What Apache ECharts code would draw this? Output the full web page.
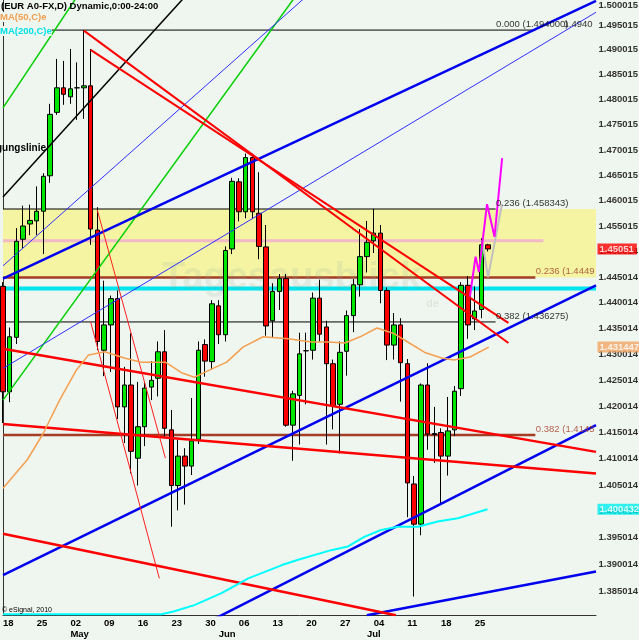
<!DOCTYPE html>
<html><head><meta charset="utf-8">
<script src="https://cdn.jsdelivr.net/npm/echarts@6/dist/echarts.min.js"></script>
<style>html,body{margin:0;padding:0;background:#eff5ef;}#c{width:639px;height:640px;}</style>
</head><body><div id="c"></div>
<script>
// ---- data ----
const dayCount = 89; // trading-day slots on the axis (Apr 18 .. right edge)
const weekIdx = [0,5,10,15,20,25,30,35,40,45,50,55,60,65,70];
const weekLabels = ['18','25','02','09','16','23','30','06','13','20','27','04','11','18','25'];
const monthIdx = [10,32,54];
const monthLabels = ['May','Jun','Jul'];

const openP  = [1.4432,1.4228,1.4333,1.4524,1.4554,1.4560,1.4579,1.4649,1.4775,1.4824,1.4806,1.4824,1.4824,1.4828,1.4542,1.4308,1.4357,1.4408,1.4199,1.4241,1.4101,1.4161,1.4237,1.4254,1.4305,1.4155,1.4049,1.4105,1.4086,1.4137,1.4319,1.4286,1.4394,1.4338,1.4505,1.4637,1.4578,1.4685,1.4575,1.4509,1.4365,1.4422,1.4447,1.4164,1.4221,1.4307,1.4308,1.4409,1.4353,1.4282,1.4204,1.4306,1.4375,1.4435,1.4490,1.4521,1.4536,1.4424,1.4318,1.4357,1.4282,1.4052,1.3976,1.4241,1.4148,1.4150,1.4105,1.4155,1.4234,1.4434,1.4369,1.4387,1.4513];
const highP  = [1.4440,1.4352,1.4546,1.4590,1.4592,1.4628,1.4654,1.4792,1.4882,1.4878,1.4902,1.4875,1.4940,1.4902,1.4587,1.4443,1.4414,1.4424,1.4276,1.4341,1.4247,1.4247,1.4287,1.4325,1.4347,1.4193,1.4137,1.4120,1.4216,1.4325,1.4329,1.4405,1.4405,1.4510,1.4645,1.4644,1.4693,1.4693,1.4656,1.4552,1.4438,1.4456,1.4456,1.4230,1.4342,1.4342,1.4420,1.4445,1.4365,1.4290,1.4325,1.4385,1.4446,1.4544,1.4560,1.4584,1.4552,1.4430,1.4380,1.4370,1.4291,1.4067,1.4244,1.4283,1.4199,1.4158,1.4218,1.4239,1.4440,1.4452,1.4432,1.4526,1.4515];
const lowP   = [1.4168,1.4208,1.4320,1.4506,1.4532,1.4532,1.4495,1.4635,1.4770,1.4790,1.4792,1.4760,1.4762,1.4513,1.4308,1.4258,1.4266,1.4176,1.4130,1.4072,1.4049,1.4124,1.4212,1.4219,1.4139,1.3971,1.4002,1.4013,1.4069,1.4128,1.4257,1.4270,1.4320,1.4325,1.4495,1.4559,1.4565,1.4565,1.4485,1.4336,1.4332,1.4386,1.4161,1.4096,1.4127,1.4204,1.4290,1.4325,1.4127,1.4156,1.4110,1.4259,1.4343,1.4412,1.4459,1.4497,1.4399,1.4289,1.4290,1.4209,1.3989,1.3840,1.3955,1.4117,1.4092,1.4016,1.4068,1.4143,1.4220,1.4330,1.4347,1.4370,1.4500];
const closeP = [1.4228,1.4334,1.4520,1.4550,1.4561,1.4579,1.4648,1.4771,1.4824,1.4811,1.4822,1.4824,1.4828,1.4544,1.4325,1.4357,1.4408,1.4199,1.4241,1.4114,1.4161,1.4235,1.4250,1.4305,1.4158,1.4049,1.4105,1.4086,1.4134,1.4308,1.4287,1.4398,1.4338,1.4502,1.4638,1.4578,1.4685,1.4578,1.4510,1.4355,1.4422,1.4447,1.4164,1.4224,1.4301,1.4307,1.4409,1.4339,1.4282,1.4201,1.4304,1.4375,1.4435,1.4490,1.4518,1.4536,1.4424,1.4318,1.4357,1.4284,1.4054,1.3976,1.4241,1.4147,1.4146,1.4105,1.4153,1.4229,1.4434,1.4357,1.4384,1.4513,1.4505];

const ma50 = [[0,1.4044],[3.6,1.4098],[6.0,1.4149],[8.4,1.4212],[10.9,1.4270],[12.7,1.4299],[15.1,1.4305],[18.0,1.4293],[20.5,1.4285],[24.1,1.4285],[26.6,1.4264],[28.4,1.4256],[30.7,1.4270],[33.2,1.4285],[35.6,1.4314],[38.6,1.4334],[42.3,1.4330],[45.8,1.4324],[48.2,1.4324],[50.7,1.4322],[53.0,1.4334],[55.5,1.4351],[57.9,1.4341],[60.3,1.4322],[62.7,1.4303],[65.1,1.4293],[66.9,1.4289],[69.3,1.4295],[72.1,1.4314]];
const ma200 = [[0,1.3807],[23.5,1.3807],[25.3,1.3812],[28.4,1.3824],[32.5,1.3847],[36.4,1.3874],[41.4,1.3899],[43.8,1.3909],[48.7,1.3927],[51.2,1.3934],[53.6,1.3952],[56.1,1.3965],[58.6,1.3971],[61.6,1.3971],[64.5,1.3981],[67.5,1.3987],[71.9,1.4004]];

const trendBlack     = [[0,1.4607],[27.3,1.5012]];
const trendGreenA    = [[0,1.4784],[11.1,1.5010]];
const trendGreenB    = [[0,1.4212],[43.5,1.5010]];
const trendBlueThinA = [[0,1.4472],[45,1.5008]];
const trendBlueThinB = [[0,1.4273],[88,1.4976]];
const trendBlueU     = [[0,1.4447],[88,1.4999]];
const trendBlueL1    = [[0,1.3880],[88,1.4434]];
const trendBlueL2    = [[31,1.3796],[88,1.4164]];
const trendBlueL3    = [[54,1.3805],[88,1.3887]];
const trendRed1      = [[0,1.4311],[88,1.4113]];
const trendRed2      = [[0,1.4166],[88,1.4072]];
const trendRed3      = [[0,1.3958],[58.3,1.3805]];
const trendRedD1     = [[12,1.4939],[75,1.4322]];
const trendRedD2     = [[13,1.4900],[75,1.4361]];
const trendThinRedA  = [[14,1.4581],[24.1,1.4101]];
const trendThinRedB  = [[13,1.4363],[23.2,1.3874]];
const projMagenta    = [[69.29,1.4412],[70.13,1.4490],[70.62,1.4460],[71.83,1.4593],[72.94,1.4529],[74.07,1.4684]];
const projGray       = [[71.09,1.4522],[71.98,1.4450],[74.05,1.4593]];

const fibBlack = [1.4940, 1.458343, 1.436275];
const fibBlackEnd = [79, 73.1, 73.1];
const fibBlackText = ['0.000 (1.494000)', '0.236 (1.458343)', '0.382 (1.436275)'];
const fibBrown = [1.4449, 1.4145];
const fibBrownText = ['0.236 (1.4449', '0.382 (1.4145'];
const bandTop = 1.458343, bandBottom = 1.4449;
const pinkLevel = 1.4521, pinkEnd = 80.2;
const cyanLevel = 1.4428;

const yTickValues = [1.500015,1.495015,1.490015,1.485015,1.480015,1.475015,1.470015,1.465015,1.460015,1.455015,1.450014,1.445014,1.440014,1.435014,1.430014,1.425014,1.420014,1.415014,1.410014,1.405014,1.400014,1.395014,1.390014,1.385014];
const tagValues = [1.45051, 1.431447, 1.400432];
const tagText = ['1.45051', '1.431447', '1.400432'];
const tagColors = ['#ff0000', '#f2a564', '#00f0f0'];

// ---- chart ----
const FONT = '"Liberation Sans", Arial, sans-serif';
const BG = '#eff5ef';
const chart = echarts.init(document.getElementById('c'), null, {width:639, height:640});
const cats = Array.from({length: dayCount}, (_, i) => String(i));

function seg(data, color, width, z, type) {
  return {type:'line', xAxisIndex:1, yAxisIndex:0, data, symbol:'none', silent:true,
    lineStyle:{color, width, type: type || 'solid'}, z: z || 4, animation:false};
}
function hline(level, end, color, width, z) { return seg([[0, level], [end, level]], color, width, z); }
function textPoint(x, y, text, color, dy, bold) {
  return {value:[x, y], label:{formatter:text, color, offset:[0, dy], fontWeight: bold ? 'bold' : 'normal'}};
}

const series = [];
// yellow band
series.push({type:'line', xAxisIndex:1, yAxisIndex:0, data:[], symbol:'none', z:1, silent:true,
  markArea:{silent:true, itemStyle:{color:'#f4f4a2'}, data:[[{yAxis:bandTop},{yAxis:bandBottom}]]}});
// horizontals
series.push(hline(pinkLevel, pinkEnd, '#f2b9c7', 3, 1.5));
series.push(hline(cyanLevel, 88, '#00e4ee', 4, 1.5));
fibBlack.forEach((v, i) => series.push(hline(v, fibBlackEnd[i], '#000000', 1, 1.6)));
fibBrown.forEach(v => series.push(hline(v, 79, '#a33d25', 2.5, 1.6)));
// candles
series.push({type:'candlestick', xAxisIndex:0, yAxisIndex:0, barWidth:5, z:3, silent:true,
  data: openP.map((o, i) => [o, closeP[i], lowP[i], highP[i]]),
  itemStyle:{color:'#00e600', color0:'#ff0000', borderColor:'#000', borderColor0:'#000', borderWidth:1}});
// trend lines
series.push(seg(trendBlack, '#000000', 1.5));
series.push(seg(trendGreenA, '#00d000', 1.5));
series.push(seg(trendGreenB, '#00d000', 1.5));
series.push(seg(trendBlueThinA, '#3030ff', 1));
series.push(seg(trendBlueThinB, '#3030ff', 1));
series.push(seg(trendBlueU, '#0000ee', 2.5));
series.push(seg(trendBlueL1, '#0000ee', 2.5));
series.push(seg(trendBlueL2, '#0000ee', 2.5));
series.push(seg(trendBlueL3, '#0000ee', 2.5));
series.push(seg(trendRed1, '#ff0000', 2.5));
series.push(seg(trendRed2, '#ff0000', 2.5));
series.push(seg(trendRed3, '#ff0000', 2.5));
series.push(seg(trendRedD1, '#ff0000', 2));
series.push(seg(trendRedD2, '#ff0000', 2));
series.push(seg(trendThinRedA, '#ff2020', 1));
series.push(seg(trendThinRedB, '#ff2020', 1));
// moving averages
series.push(seg(ma50, '#f5a050', 1.5));
series.push(seg(ma200, '#00ffff', 2));
// projections
series.push(seg(projGray, '#c0c0c0', 2));
series.push(seg(projMagenta, '#ff00ff', 2));
// fib texts
const fibTexts = [];
fibBlack.forEach((v, i) => fibTexts.push(textPoint(73.1, v, fibBlackText[i], '#000', -6, false)));
fibTexts.push(textPoint(83.1, fibBlack[0], '1.4940', '#000', -6, false));
fibBrown.forEach((v, i) => fibTexts.push(textPoint(79, v, fibBrownText[i], '#a33d25', -6, false)));
series.push({type:'scatter', xAxisIndex:1, yAxisIndex:0, data: fibTexts, symbol:'circle', symbolSize:1,
  itemStyle:{color:'transparent'}, clip:false, silent:true, z:5,
  label:{show:true, position:'right', distance:0, fontSize:9.5, fontFamily:FONT}});
// y-axis tick labels (log axis)
series.push({type:'scatter', xAxisIndex:1, yAxisIndex:0, symbol:'circle', symbolSize:1,
  itemStyle:{color:'transparent'}, clip:false, silent:true, z:5,
  data: yTickValues.map((v, i) => ({value:[88, v], label:{formatter: v.toFixed(6), offset:[0, i === 0 ? 5 : 0]}})),
  label:{show:true, position:'right', distance:2, color:'#000', fontWeight:'bold', fontSize:9.5, fontFamily:FONT}});
// last-value tags
series.push({type:'scatter', xAxisIndex:1, yAxisIndex:0, symbol:'circle', symbolSize:1,
  itemStyle:{color:'transparent'}, clip:false, silent:true, z:6,
  data: tagValues.map((v, i) => ({value:[88, v], label:{formatter: tagText[i], backgroundColor: tagColors[i]}})),
  label:{show:true, position:'right', distance:1, color:'#fff', fontWeight:'bold', fontSize:9.5, fontFamily:FONT,
    padding:[1, 3, 0, 2]}});

const option = {
  animation:false,
  backgroundColor: BG,
  grid:{left:0, right:43, top:0, bottom:25, containLabel:false},
  xAxis:[
    {type:'category', data:cats, boundaryGap:false, position:'bottom',
      axisLine:{show:true, lineStyle:{color:'#333', width:1}}, axisTick:{show:false}, splitLine:{show:false},
      axisLabel:{
        interval:(idx) => weekIdx.includes(idx) || monthIdx.includes(idx),
        formatter:(val, idx) => {
          const w = weekIdx.indexOf(idx), m = monthIdx.indexOf(idx);
          return (w >= 0 ? weekLabels[w] : '') + '\n' + (m >= 0 ? monthLabels[m] : '');
        },
        align:'left', margin:3, color:'#000', fontWeight:'bold', fontSize:9.5, lineHeight:11, fontFamily:FONT}},
    {type:'value', min:0, max:88, show:false}
  ],
  yAxis:[{type:'log', logBase:10, min:1.38056, max:1.50008, position:'right',
    axisLine:{show:true, lineStyle:{color:'#333', width:1}}, axisTick:{show:false},
    axisLabel:{show:false}, splitLine:{show:false}}],
  graphic:[
    {type:'text', x:162, y:298, z:2, silent:true, style:{text:'Tagesausblick', fill:'rgba(150,175,150,0.16)',
      font:'bold 38px ' + FONT, textVerticalAlign:'bottom', verticalAlign:'bottom'}},
    {type:'text', x:426, y:309, z:2, silent:true, style:{text:'de', fill:'rgba(150,175,150,0.2)',
      font:'bold 11px ' + FONT, verticalAlign:'bottom'}},
    {type:'text', x:1, y:6, z:10, style:{text:'(EUR A0-FX,D) Dynamic,0:00-24:00', fill:'#000',
      font:'bold 9.5px ' + FONT, verticalAlign:'middle'}},
    {type:'text', x:0, y:17, z:10, style:{text:'MA(50,C)e', fill:'#f2a050', backgroundColor:BG,
      font:'bold 9.5px ' + FONT, verticalAlign:'middle'}},
    {type:'text', x:0, y:31, z:10, style:{text:'MA(200,C)e', fill:'#00e0e6', backgroundColor:BG,
      font:'bold 9.5px ' + FONT, verticalAlign:'middle'}},
    {type:'text', x:46, y:148, z:10, style:{text:'Bestätigungslinie', fill:'#000', align:'right',
      font:'bold 10px ' + FONT, verticalAlign:'middle'}},
    {type:'text', x:2, y:610, z:10, style:{text:'\u00a9 eSignal, 2010', fill:'#000',
      font:'7px ' + FONT, verticalAlign:'middle'}}
  ],
  series
};
chart.setOption(option);
</script>
</body></html>
